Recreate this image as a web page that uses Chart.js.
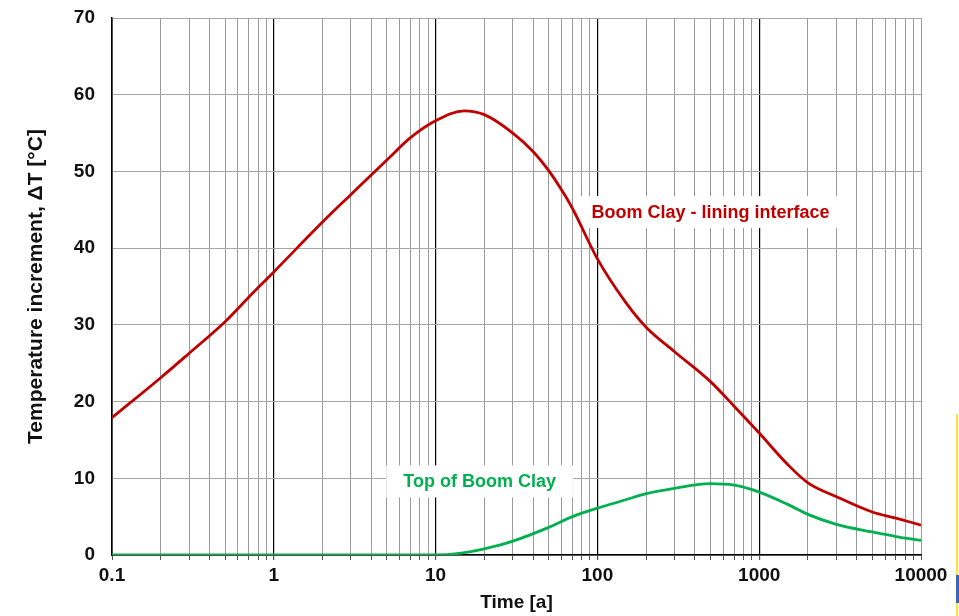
<!DOCTYPE html>
<html>
<head>
<meta charset="utf-8">
<script src="https://cdn.jsdelivr.net/npm/chart.js@4"></script>
<style>
  html, body { margin: 0; padding: 0; background: #fff; }
  #wrap { position: relative; width: 959px; height: 616px; }
  .edge-yellow { position: absolute; left: 956px; top: 414px; width: 2px; height: 202px; background: #f5e63a; }
  .edge-blue { position: absolute; left: 956px; top: 575px; width: 3px; height: 28px; background: #3f64b0; }
</style>
</head>
<body>
<div id="wrap">
  <canvas id="myChart" width="959" height="616"></canvas>
  <div class="edge-yellow"></div>
  <div class="edge-blue"></div>
</div>
<script>
// Boom Clay - lining interface
const redTime = [0.1, 0.2, 0.3, 0.5, 0.7, 1, 2, 3, 5, 7, 10, 15, 20, 30, 40, 50, 60, 70, 100, 150, 200, 300, 500, 700, 1000, 1500, 2000, 3000, 5000, 7000, 10000];
const redTemp = [17.9, 23.1, 26.3, 30.4, 33.6, 36.9, 43.4, 47.0, 51.5, 54.4, 56.6, 57.9, 57.4, 55.0, 52.6, 50.1, 47.6, 45.2, 38.6, 32.9, 29.7, 26.5, 22.6, 19.4, 15.9, 11.8, 9.4, 7.6, 5.6, 4.8, 3.9];

// Top of Boom Clay
const greenTime = [0.1, 1, 10, 14, 20, 30, 50, 70, 100, 150, 200, 300, 500, 700, 1000, 1500, 2000, 3000, 5000, 7000, 10000];
const greenTemp = [0, 0, 0, 0.2, 0.8, 1.8, 3.6, 5.0, 6.1, 7.2, 8.0, 8.7, 9.3, 9.1, 8.2, 6.6, 5.3, 4.0, 3.0, 2.4, 1.9];

// Axes
const xDecades = [0.1, 1, 10, 100, 1000, 10000];
const xDecadeLabels = ['0.1', '1', '10', '100', '1000', '10000'];
const yTickValues = [0, 10, 20, 30, 40, 50, 60, 70];

// Curve labels: [text, time, temp, colour]
const curveLabels = [
    ['Boom Clay - lining interface', 500, 44.7, '#C00000'],
    ['Top of Boom Clay', 18.7, 9.6, '#00B050']
];

// Grid positions for the log axis: 1..9 in each decade
const xGridValues = [];
for (let d = 0; d < xDecades.length - 1; d++) {
    for (let m = 1; m < 10; m++) {
        xGridValues.push(Math.round(xDecades[d] * m * 1000) / 1000);
    }
}
xGridValues.push(xDecades[xDecades.length - 1]);

function toPoints(xs, ys) {
    return xs.map((x, i) => ({ x: x, y: ys[i] }));
}

// Рисуем подписи кривых в белых прямоугольниках
const curveLabelPlugin = {
    id: 'curveLabels',
    beforeDatasetsDraw(chart) {
        const ctx = chart.ctx;
        const xs = chart.scales.x;
        const ys = chart.scales.y;
        ctx.save();
        ctx.font = 'bold 18px "Liberation Sans", Arial, sans-serif';
        ctx.textAlign = 'center';
        ctx.textBaseline = 'middle';
        curveLabels.forEach(([text, t, v, color]) => {
            const px = xs.getPixelForValue(t);
            const py = ys.getPixelForValue(v);
            const w = ctx.measureText(text).width + 34;
            const h = 32;
            ctx.fillStyle = '#fff';
            ctx.fillRect(px - w / 2, py - h / 2, w, h);
            ctx.fillStyle = color;
            ctx.fillText(text, px, py + 1);
        });
        ctx.restore();
    }
};

const tickFont = { family: '"Liberation Sans", Arial, sans-serif', size: 19, weight: 'bold' };
const yTitleFont = { family: '"Liberation Sans", Arial, sans-serif', size: 21, weight: 'bold' };

const ctx = document.getElementById('myChart').getContext('2d');
const myChart = new Chart(ctx, {
    type: 'line',
    data: {
        datasets: [{
            label: 'Boom Clay - lining interface',
            data: toPoints(redTime, redTemp),
            borderColor: '#C00000',
            borderWidth: 2.8,
            pointRadius: 0,
            cubicInterpolationMode: 'monotone',
            fill: false
        }, {
            label: 'Top of Boom Clay',
            data: toPoints(greenTime, greenTemp),
            borderColor: '#00B050',
            borderWidth: 2.8,
            pointRadius: 0,
            cubicInterpolationMode: 'monotone',
            fill: false
        }]
    },
    options: {
        responsive: false,
        animation: false,
        layout: { padding: { top: 18, right: 38, left: 0, bottom: 0 } },
        plugins: {
            legend: { display: false },
            tooltip: { enabled: false }
        },
        scales: {
            x: {
                type: 'logarithmic',
                min: 0.1,
                max: 10000,
                afterBuildTicks(scale) {
                    scale.ticks = xGridValues.map(v => ({ value: v }));
                },
                afterFit(scale) {
                    scale.height = 61;
                    scale.paddingLeft = 0;
                    scale.paddingRight = 0;
                },
                ticks: {
                    autoSkip: false,
                    maxRotation: 0,
                    padding: 4,
                    color: '#111',
                    font: tickFont,
                    callback(value) {
                        const i = xDecades.indexOf(value);
                        return i >= 0 ? xDecadeLabels[i] : '';
                    }
                },
                grid: {
                    color(c) {
                        const v = c.tick && c.tick.value;
                        return (v === 1 || v === 10 || v === 100 || v === 1000) ? '#000' : '#9a9a9a';
                    },
                    lineWidth(c) {
                        const v = c.tick && c.tick.value;
                        return (v === 1 || v === 10 || v === 100 || v === 1000) ? 1.2 : 1;
                    },
                    tickLength: 5,
                    tickColor: '#555'
                },
                border: { display: true, color: '#000', width: 1.5 },
                title: {
                    display: true,
                    text: 'Time [a]',
                    color: '#111',
                    font: tickFont,
                    padding: { top: 0, bottom: 2 }
                }
            },
            y: {
                min: 0,
                max: 70,
                afterBuildTicks(scale) {
                    scale.ticks = yTickValues.map(v => ({ value: v }));
                },
                afterFit(scale) {
                    scale.width = 112;
                    scale.paddingTop = 0;
                    scale.paddingBottom = 0;
                },
                ticks: {
                    padding: 17,
                    color: '#111',
                    font: tickFont
                },
                grid: {
                    color: '#a6a6a6',
                    lineWidth: 1,
                    drawTicks: false
                },
                border: { display: true, color: '#000', width: 1.5 },
                title: {
                    display: true,
                    text: 'Temperature increment, ΔT [°C]',
                    color: '#111',
                    font: yTitleFont,
                    padding: { top: 24, bottom: 0 }
                }
            }
        }
    },
    plugins: [curveLabelPlugin]
});
</script>
</body>
</html>
